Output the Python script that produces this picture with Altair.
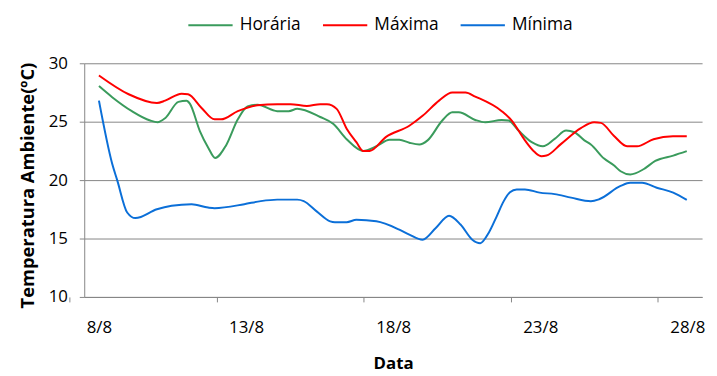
import altair as alt
import pandas as pd

# Day of August (fractional) and temperature (ºC)
hor_day = [8.0, 8.45, 9.12, 9.74, 9.99, 10.25, 10.7, 10.98, 11.09, 11.43, 11.71, 11.95, 12.32, 12.72,
           13.05, 13.39, 14.06, 14.45, 14.74, 15.52, 15.97, 16.42, 16.98, 17.43, 17.88, 18.21, 18.55,
           18.89, 19.17, 19.67, 20.01, 20.23, 20.79, 21.13, 21.69, 21.92, 22.26, 22.71, 23.09, 23.49,
           23.88, 24.16, 24.5, 24.72, 25.17, 25.5, 25.73, 26.06, 26.51, 26.91, 27.52, 27.98]
hor_temp = [28.05, 27.1, 25.9, 25.1, 24.95, 25.3, 26.7, 26.8, 26.55, 24.2, 22.8, 21.9, 22.97, 25.2,
            26.3, 26.45, 25.9, 25.9, 26.1, 25.4, 24.8, 23.5, 22.5, 22.9, 23.45, 23.45, 23.2,
            23.05, 23.4, 25.1, 25.8, 25.8, 25.15, 24.95, 25.15, 25.1, 24.24, 23.25, 22.9, 23.53,
            24.24, 24.1, 23.4, 23.05, 21.84, 21.27, 20.76, 20.48, 20.93, 21.64, 22.1, 22.48]

max_day = [8.0, 9.01, 9.97, 10.25, 10.81, 11.03, 11.48, 11.93, 12.15, 12.72, 13.39, 14.06, 14.51,
           15.07, 15.52, 15.75, 16.08, 16.42, 16.75, 16.98, 17.2, 17.76, 18.55, 19.0, 19.56, 20.01,
           20.46, 20.79, 21.69, 22.03, 22.48, 22.81, 23.04, 23.21, 23.71, 24.38, 24.83, 25.06, 25.5,
           25.95, 26.29, 26.85, 27.51, 27.98]
max_temp = [28.96, 27.35, 26.6, 26.8, 27.4, 27.35, 26.2, 25.2, 25.2, 25.9, 26.4, 26.5, 26.5,
            26.35, 26.5, 26.5, 26.1, 24.4, 23.25, 22.5, 22.5, 23.7, 24.65, 25.5, 26.8, 27.5,
            27.5, 27.15, 25.9, 25.1, 23.4, 22.4, 22.05, 22.1, 23.1, 24.45, 24.95, 24.9, 23.8,
            22.9, 22.9, 23.5, 23.75, 23.75]

min_day = [8.0, 8.45, 8.62, 8.96, 9.24, 9.97, 10.47, 11.15, 11.71, 11.93, 12.94, 13.5, 14.06, 14.74,
           14.96, 15.41, 15.86, 16.02, 16.42, 16.75, 17.43, 18.21, 18.55, 19.0, 19.45, 19.9, 20.29,
           20.69, 20.96, 21.24, 21.52, 21.75, 21.97, 22.2, 22.48, 22.98, 23.49, 24.05, 24.72, 25.0,
           25.73, 26.06, 26.46, 26.96, 27.52, 27.98]
min_temp = [26.8, 21.4, 20.0, 17.23, 16.75, 17.5, 17.8, 17.94, 17.65, 17.6, 17.94, 18.2, 18.33, 18.33,
            18.2, 17.3, 16.47, 16.4, 16.4, 16.6, 16.47, 15.76, 15.34, 14.9, 15.9, 16.95, 16.2,
            14.9, 14.6, 15.45, 16.9, 18.16, 18.96, 19.2, 19.2, 18.93, 18.8, 18.5, 18.2, 18.36,
            19.5, 19.77, 19.77, 19.35, 18.93, 18.3]

series_names = ["Horária", "Máxima", "Mínima"]
series_colors = ["#3a9b5c", "#ff0000", "#0b6fd8"]
x_tick_days = [8, 13, 18, 23, 28]
y_ticks = [10, 15, 20, 25, 30]

rows = []
for name, days, temps in zip(series_names, [hor_day, max_day, min_day], [hor_temp, max_temp, min_temp]):
    for i, (d, t) in enumerate(zip(days, temps)):
        rows.append({"serie": name, "dia": d, "temp": t, "ordem": i})
df = pd.DataFrame(rows)

W, H = 624, 236
day_px = W / 21.0
FONT = "Open Sans"

chart = alt.Chart(df).mark_line(interpolate="monotone", strokeWidth=2).encode(
    x=alt.X("dia:Q", scale=alt.Scale(domain=[7.5, 28.5], nice=False, zero=False),
            axis=alt.Axis(values=x_tick_days, labelExpr="datum.value + '/8'", grid=False,
                          tickOffset=-day_px, labelOffset=day_px, tickSize=5,
                          labelPadding=18, title="Data", titlePadding=20)),
    y=alt.Y("temp:Q", scale=alt.Scale(domain=[10, 30], nice=False, zero=False),
            axis=alt.Axis(values=y_ticks, grid=True, tickSize=5, labelPadding=12,
                          title="Temperatura Ambiente(ºC)", titlePadding=11,
                          titleFontSize=18.5, titleY=H / 2 + 5)),
    color=alt.Color("serie:N", scale=alt.Scale(domain=series_names, range=series_colors),
                    legend=alt.Legend(title=None, orient="none", direction="horizontal",
                                      legendX=104, legendY=-62, symbolType="stroke",
                                      symbolSize=2000, symbolStrokeWidth=2, labelOffset=6,
                                      columnPadding=18, labelFontSize=17.5, labelFont=FONT,
                                      labelColor="#000000")),
    order="ordem:Q",
).properties(
    width=W, height=H,
    autosize=alt.AutoSizeParams(type="none"),
    padding={"left": 77, "top": 54, "right": 7, "bottom": 76},
).configure_view(stroke=None).configure_axis(
    domainColor="#868686", tickColor="#868686", gridColor="#868686", gridWidth=1,
    labelFont=FONT, labelFontSize=17, labelColor="#000000",
    titleFont=FONT, titleFontSize=17, titleFontWeight="bold", titleColor="#000000",
)

chart.save("out.html", embed_options={"renderer": "svg", "actions": False})
